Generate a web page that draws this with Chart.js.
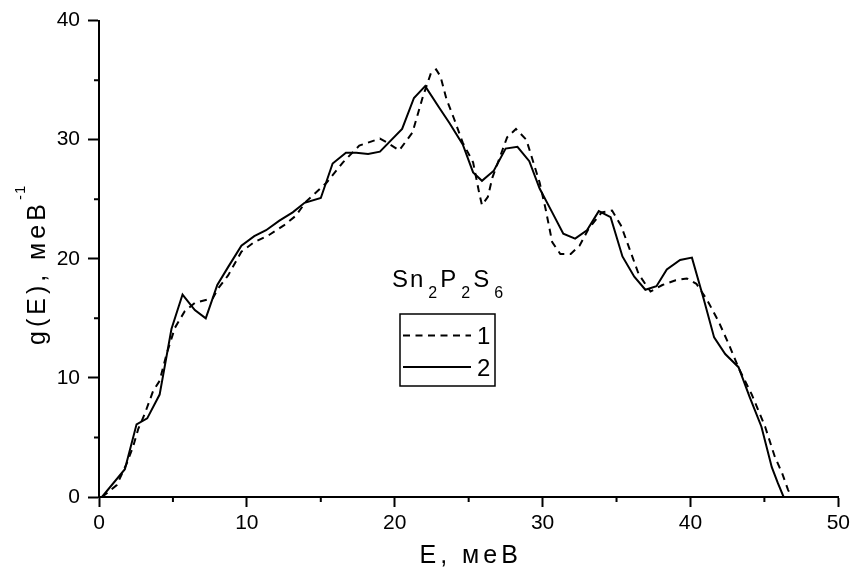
<!DOCTYPE html>
<html>
<head>
<meta charset="utf-8">
<script src="https://cdn.jsdelivr.net/npm/chart.js@4"></script>
<style>
  html,body{margin:0;padding:0;background:#fff;}
  #wrap{width:854px;height:572px;}
</style>
</head>
<body>
<div id="wrap"><canvas id="c" width="854" height="572"></canvas></div>
<script>
// Series 1 (dashed)
const e1 = [0.2,1.2,1.87,2.3,2.65,3.1,3.66,4.1,4.57,5.13,5.8,6.48,7.7,8.05,8.73,9.63,10.5,11.5,12.5,13.3,14.0,15.4,16.5,17.6,19.0,19.5,20.3,21.2,21.9,22.45,22.8,23.1,23.5,24.0,24.6,25.3,25.7,25.9,26.3,26.6,27.1,27.6,28.2,28.9,29.3,29.8,30.2,30.65,31.2,31.9,32.5,33.1,34.0,34.7,35.3,35.8,36.5,37.3,38.1,39.0,39.75,40.4,41.1,41.9,42.6,43.25,44.15,45.05,45.7,46.2,46.6,46.85];
const g1 = [0,1.0,2.8,4.2,5.7,7.0,8.9,9.75,12.0,14.2,15.6,16.3,16.7,17.5,18.6,20.6,21.4,22.0,22.8,23.6,24.8,26.4,28.1,29.5,30.1,29.75,29.1,30.6,33.6,35.6,35.9,35.3,33.4,31.8,29.75,28.1,25.6,24.5,25.2,26.8,28.5,30.2,30.9,30.0,28.4,26.4,24.2,21.4,20.4,20.4,21.1,22.5,23.9,24.05,22.8,21.1,18.7,17.25,17.8,18.2,18.35,17.9,16.6,14.75,12.8,10.85,8.6,5.9,3.4,2.0,0.6,0];
// Series 2 (solid)
const e2 = [0.2,1.75,2.54,3.26,4.1,4.9,5.65,6.48,7.22,8.0,8.73,9.63,10.5,11.3,12.2,13.1,13.9,15.0,15.8,16.7,17.4,18.2,19.0,20.5,21.3,22.06,23.0,23.7,24.6,25.3,25.9,26.7,27.5,28.3,29.1,29.8,30.65,31.4,32.2,33.0,33.8,34.6,35.4,36.2,36.95,37.7,38.4,39.3,40.1,40.9,41.6,42.35,43.25,44.0,44.8,45.5,45.9,46.3];
const g2 = [0,2.33,6.1,6.6,8.6,14.1,17.0,15.7,15.0,17.8,19.3,21.1,21.9,22.4,23.2,23.9,24.7,25.1,28.0,28.9,28.9,28.8,29.0,30.9,33.5,34.5,32.7,31.4,29.6,27.25,26.55,27.4,29.25,29.4,28.2,25.9,23.9,22.1,21.7,22.4,24.0,23.5,20.2,18.5,17.4,17.7,19.1,19.9,20.1,16.6,13.4,12.0,10.9,8.4,5.9,2.5,1.2,0];

const seriesNames = ['1','2'];
const xTitle = 'E, меВ';
const yTitle = 'g(E), меВ';
const yTitleSup = '-1';
const compound = [['Sn',''],['2','sub'],['P',''],['2','sub'],['S',''],['6','sub']];
const xMinorTicks = [5,15,25,35,45];
const yMinorTicks = [5,15,25,35];

const toPts = (xs, ys) => xs.map((x,i)=>({x:x,y:ys[i]}));
const FONT = '"Liberation Sans", Arial, sans-serif';
const DASH = [7,5.5];

const decor = {
  id:'decor',
  afterDraw(chart){
    const ctx = chart.ctx;
    const xs = chart.scales.x, ys = chart.scales.y;
    const ca = chart.chartArea;
    ctx.save();
    // minor ticks
    ctx.strokeStyle = '#000'; ctx.lineWidth = 2;
    ctx.beginPath();
    xMinorTicks.forEach(v=>{const p=xs.getPixelForValue(v); ctx.moveTo(p,ca.bottom); ctx.lineTo(p,ca.bottom+5);});
    yMinorTicks.forEach(v=>{const p=ys.getPixelForValue(v); ctx.moveTo(ca.left,p); ctx.lineTo(ca.left-5,p);});
    ctx.stroke();
    ctx.fillStyle = '#000';
    // x title
    ctx.letterSpacing = '4px';
    ctx.font = '25px ' + FONT;
    ctx.textAlign = 'center'; ctx.textBaseline = 'alphabetic';
    ctx.fillText(xTitle, (ca.left+ca.right)/2 + 2, 563);
    // y title
    ctx.save();
    ctx.translate(45, 345);
    ctx.rotate(-Math.PI/2);
    ctx.textAlign = 'left';
    ctx.fillText(yTitle, 0, 0);
    const w = ctx.measureText(yTitle).width;
    ctx.font = '15px ' + FONT;
    ctx.letterSpacing = '1px';
    ctx.fillText(yTitleSup, w, -20);
    ctx.restore();
    // legend title
    let x = ca.left + 293;
    const base = 287;
    ctx.textAlign = 'left';
    compound.forEach(([t,k])=>{
      if(k==='sub'){ ctx.font='16px '+FONT; ctx.letterSpacing='0px'; x+=3; ctx.fillText(t,x,base+11); x+=ctx.measureText(t).width+3; }
      else { ctx.font='24px '+FONT; ctx.letterSpacing='2px'; ctx.fillText(t,x,base); x+=ctx.measureText(t).width; }
    });
    // legend box
    const bx = ca.left+301, by = 314, bw = 95, bh = 72;
    ctx.lineWidth = 1.5;
    ctx.strokeRect(bx, by, bw, bh);
    ctx.lineWidth = 2;
    ctx.setLineDash(DASH);
    ctx.beginPath(); ctx.moveTo(bx+3, 335.5); ctx.lineTo(bx+71, 335.5); ctx.stroke();
    ctx.setLineDash([]);
    ctx.beginPath(); ctx.moveTo(bx+3, 367); ctx.lineTo(bx+71, 367); ctx.stroke();
    ctx.font = '24px '+FONT; ctx.letterSpacing='0px';
    ctx.fillText(seriesNames[0], bx+77, 344);
    ctx.fillText(seriesNames[1], bx+77, 376);
    ctx.restore();
  }
};

const tickColor = c => (c.tick && c.tick.value % 10 === 0) ? '#000' : 'rgba(0,0,0,0)';
const tickLabel = v => (v % 10 === 0) ? v : '';

new Chart(document.getElementById('c'), {
  type:'line',
  data:{
    datasets:[
      {label:seriesNames[0], data:toPts(e1,g1), borderColor:'#000', borderWidth:2, borderDash:DASH, pointRadius:0, tension:0, fill:false},
      {label:seriesNames[1], data:toPts(e2,g2), borderColor:'#000', borderWidth:2, pointRadius:0, tension:0, fill:false}
    ]
  },
  options:{
    responsive:false, animation:false, devicePixelRatio:1,
    layout:{padding:{top:17,right:14,left:0,bottom:0}},
    plugins:{legend:{display:false}, tooltip:{enabled:false}},
    scales:{
      x:{type:'linear', min:0, max:50,
         afterFit(s){ s.height = 75; },
         border:{display:true,color:'#000',width:2},
         grid:{drawOnChartArea:false, drawTicks:true, tickLength:10, tickWidth:2, tickColor:tickColor},
         ticks:{stepSize:5, autoSkip:false, maxRotation:0, padding:4, color:'#000', font:{family:FONT,size:21}, callback:tickLabel}},
      y:{type:'linear', min:0, max:40,
         afterFit(s){ s.width = 99; },
         border:{display:true,color:'#000',width:2},
         grid:{drawOnChartArea:false, drawTicks:true, tickLength:11, tickWidth:2, tickColor:tickColor},
         ticks:{stepSize:5, autoSkip:false, padding:8, color:'#000', font:{family:FONT,size:21}, callback:tickLabel}}
    }
  },
  plugins:[decor]
});
</script>
</body>
</html>
